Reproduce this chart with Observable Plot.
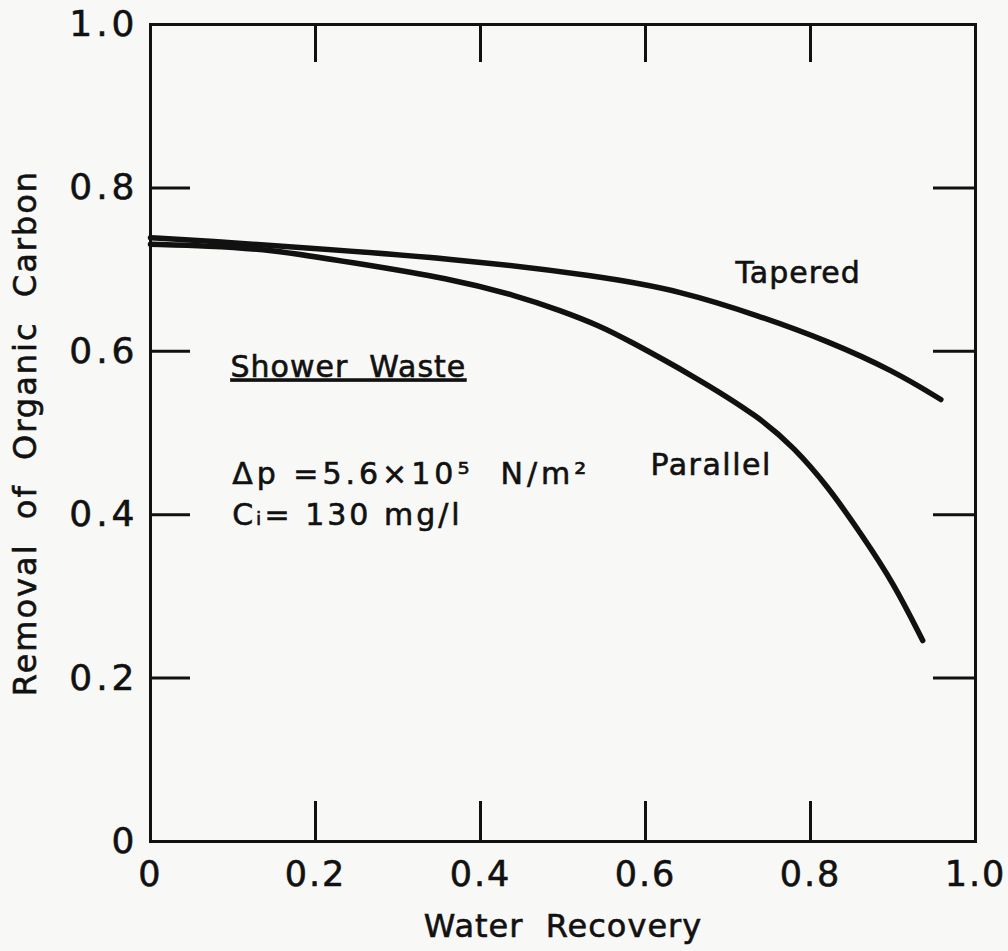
<!DOCTYPE html>
<html>
<head>
<meta charset="utf-8">
<script src="https://cdn.jsdelivr.net/npm/d3@7"></script>
<script src="https://cdn.jsdelivr.net/npm/@observablehq/plot@0.6"></script>
<style>
  html, body { margin: 0; padding: 0; background: #f8f8f6; }
  svg { font-family: "DejaVu Sans", sans-serif; }
</style>
</head>
<body>
<div id="chart"></div>
<script>
// Data
const taperedX = [0, 0.07, 0.182, 0.364, 0.545, 0.642, 0.739, 0.820, 0.901, 0.958];
const taperedY = [0.739, 0.735, 0.727, 0.714, 0.692, 0.674, 0.643, 0.613, 0.576, 0.541];
const parallelX = [0, 0.07, 0.142, 0.242, 0.364, 0.444, 0.497, 0.545, 0.578, 0.658, 0.739, 0.780, 0.820, 0.861, 0.901, 0.936];
const parallelY = [0.731, 0.729, 0.725, 0.709, 0.689, 0.668, 0.650, 0.631, 0.614, 0.570, 0.519, 0.482, 0.436, 0.377, 0.316, 0.246];
const xTicks = [0, 0.2, 0.4, 0.6, 0.8, 1.0];
const yTicks = [0, 0.2, 0.4, 0.6, 0.8, 1.0];
const xLabel = "Water  Recovery";
const yLabel = "Removal  of  Organic  Carbon";
const notes = [
  {text: "Shower  Waste", x: 0.097, y: 0.569, ls: 1},
  {text: "Δp =5.6×10⁵  N/m²", x: 0.099, y: 0.438, ls: 4},
  {text: "Cᵢ= 130 mg/l", x: 0.099, y: 0.387, ls: 3},
  {text: "Tapered", x: 0.709, y: 0.684, ls: 1},
  {text: "Parallel", x: 0.606, y: 0.448, ls: 1.5}
];

const tapered = taperedX.map((x, i) => ({x, y: taperedY[i], s: "Tapered"}));
const parallel = parallelX.map((x, i) => ({x, y: parallelY[i], s: "Parallel"}));

const W = 1008, H = 951;
const mL = 150, mR = 33, mT = 24, mB = 110;
const fw = W - mL - mR, fh = H - mT - mB;
const fmt = d => d === 0 ? "0" : d.toFixed(1);
const ink = "#111";

const chart = Plot.plot({
  width: W,
  height: H,
  marginLeft: mL,
  marginRight: mR,
  marginTop: mT,
  marginBottom: mB,
  style: {background: "transparent", color: ink},
  x: {domain: [0, 1]},
  y: {domain: [0, 1]},
  marks: [
    Plot.axisX(xTicks, {tickSize: 0, tickPadding: 20, fontSize: 35, tickFormat: fmt, label: null, fill: ink}),
    Plot.axisY(yTicks, {tickSize: 0, tickPadding: 12, fontSize: 36, tickFormat: fmt, label: null, fill: ink}),
    Plot.tickX(xTicks.slice(1, -1), {x: d => d, insetTop: fh - 40, stroke: ink, strokeWidth: 3}),
    Plot.tickX(xTicks.slice(1, -1), {x: d => d, insetBottom: fh - 38, stroke: ink, strokeWidth: 3}),
    Plot.tickY(yTicks.slice(1, -1), {y: d => d, insetRight: fw - 40, stroke: ink, strokeWidth: 3}),
    Plot.tickY(yTicks.slice(1, -1), {y: d => d, insetLeft: fw - 42, stroke: ink, strokeWidth: 3}),
    Plot.frame({stroke: ink, strokeWidth: 3}),
    Plot.line(tapered, {x: "x", y: "y", curve: "basis", stroke: ink, strokeWidth: 5.5, strokeLinecap: "round"}),
    Plot.line(parallel, {x: "x", y: "y", curve: "basis", stroke: ink, strokeWidth: 5.5, strokeLinecap: "round"}),
    Plot.text(notes, {x: "x", y: "y", text: "text", textAnchor: "start", lineAnchor: "bottom", fontSize: 30, fill: ink}),
    Plot.text([xLabel], {frameAnchor: "bottom", textAnchor: "middle", dy: 95, fontSize: 32, fill: ink}),
    Plot.text([yLabel], {frameAnchor: "left", textAnchor: "middle", rotate: -90, dx: -125, fontSize: 32, fill: ink})
  ]
});

const svg = d3.select(chart);
svg.selectAll("text").style("white-space", "pre")
  .style("stroke", ink).style("stroke-width", "0.6px").style("paint-order", "stroke");
svg.selectAll("text").filter(function() { return this.textContent === "Shower  Waste"; })
  .style("text-decoration", "underline");
notes.forEach(n => {
  svg.selectAll("text").filter(function() { return this.textContent === n.text; })
    .style("letter-spacing", n.ls + "px");
});
svg.selectAll("text").filter(function() { return this.textContent === yLabel; }).style("letter-spacing", "2px");
svg.selectAll("text").filter(function() { return this.textContent === xLabel; }).style("letter-spacing", "1px");
svg.selectAll("g[aria-label='x-axis tick label'] text").style("letter-spacing", "2px");
svg.selectAll("g[aria-label='y-axis tick label'] text").style("letter-spacing", "4px");
document.getElementById("chart").appendChild(chart);
</script>
</body>
</html>
